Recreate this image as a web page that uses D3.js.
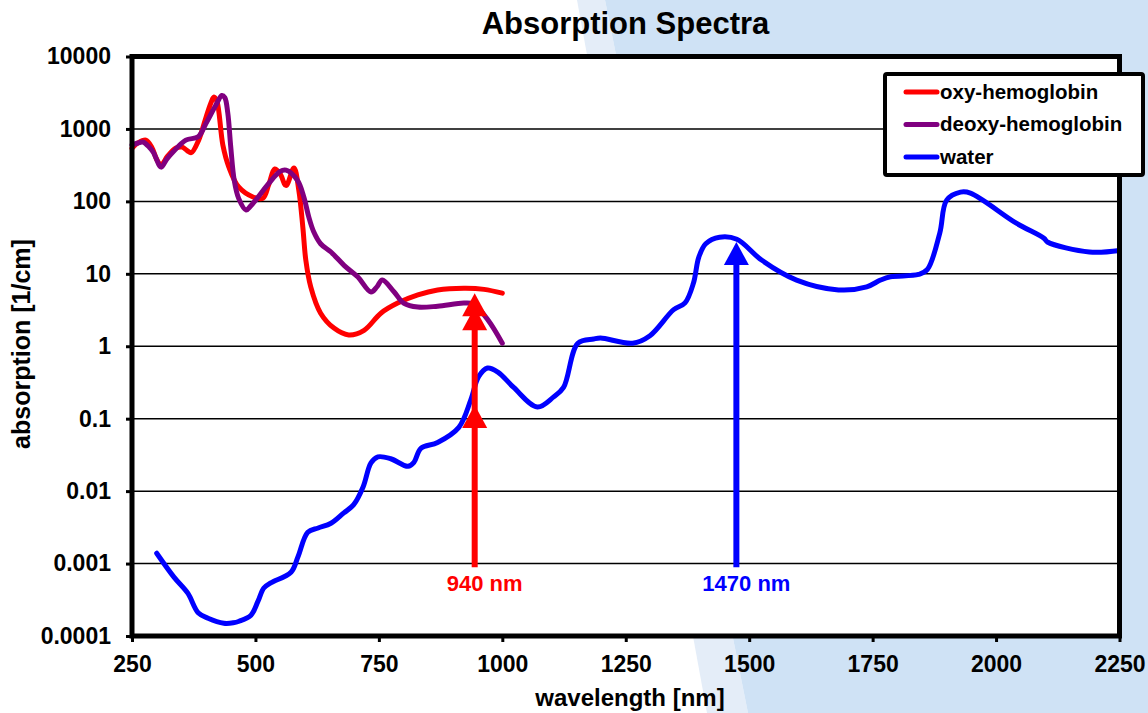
<!DOCTYPE html>
<head>
   <meta charset="utf-8">
   <title>Absorption Spectra</title>
   <script src="https://d3js.org/d3.v7.min.js"></script>
   <style>
      body { margin: 0; background: #ffffff; }
      text {
         font-family: "Liberation Sans", Arial, sans-serif;
         font-weight: 700;
         fill: #000000;
      }
      text.title { font-size: 31px; }
      text.axisTitle { font-size: 24px; }
      text.yTitle { font-size: 25px; }
      .tick text { font-size: 23px; font-weight: 700; }
      .tick line { stroke: #000000; stroke-width: 3; }
      path.domain { display: none; }
      text.legendText { font-size: 20.5px; }
      text.arrowLabel { font-size: 22px; }
   </style>
</head>

<body>
   <script>
      // ---- data (wavelength nm, absorption 1/cm) ----
      const oxyHb = [
         [250, 540], [262, 640], [278, 700], [290, 560], [300, 380], [309, 318], [322, 420],
         [339, 545], [352, 560], [362, 500], [370, 470], [385, 700], [400, 1450], [410, 2300],
         [416, 2760], [422, 2400], [434, 600], [446, 300], [466, 158], [495, 115], [515, 110],
         [527, 170], [539, 280], [550, 240], [562, 165], [578, 290], [588, 140], [596, 44],
         [602, 15.5], [612, 6.6], [632, 2.86], [659, 1.78], [689, 1.43], [720, 1.66], [754, 2.86],
         [788, 3.94], [829, 5.1], [869, 5.96], [922, 6.3], [963, 6.1], [1000, 5.4]
      ];

      const deoxyHb = [
         [250, 600], [262, 640], [272, 660], [285, 560], [293, 480], [309, 297], [320, 380],
         [333, 480], [359, 700], [384, 780], [400, 1200], [420, 2140], [432, 2900], [438, 2700],
         [444, 1660], [450, 565], [457, 196], [466, 110], [481, 76], [490, 86], [501, 105],
         [527, 177], [550, 260], [562, 270], [585, 196], [598, 115], [608, 61], [618, 38],
         [632, 26], [653, 20], [680, 13], [707, 9.1], [734, 5.6], [746, 6.6], [757, 8.2],
         [781, 5.6], [801, 3.9], [829, 3.47], [869, 3.57], [922, 3.94], [942, 3.8], [971, 2.3],
         [1000, 1.1]
      ];

      const water = [
         [300, 0.00139], [335, 0.00065], [363, 0.00039], [384, 0.00021], [404, 0.000176],
         [436, 0.00015], [455, 0.000152], [467, 0.00016], [491, 0.000194], [505, 0.0003],
         [517, 0.00046], [531, 0.00054], [572, 0.00076], [586, 0.00123], [606, 0.0027],
         [627, 0.0031], [653, 0.0036], [679, 0.005], [699, 0.0065], [718, 0.0114], [734, 0.0245],
         [748, 0.0297], [774, 0.028], [809, 0.022], [821, 0.025], [835, 0.039], [869, 0.047],
         [912, 0.076], [936, 0.18], [952, 0.38], [970, 0.5], [991, 0.44], [1023, 0.27],
         [1071, 0.145], [1104, 0.2], [1124, 0.27], [1153, 1.1], [1185, 1.26], [1199, 1.3],
         [1264, 1.1], [1299, 1.4], [1347, 3.2], [1370, 3.96], [1387, 7.4], [1398, 17],
         [1412, 26], [1440, 32], [1475, 30], [1525, 15.5], [1596, 8.2], [1681, 6], [1738, 6.6],
         [1766, 8.2], [1786, 9.1], [1843, 9.8], [1861, 11.5], [1886, 36.5], [1900, 104],
         [1928, 134], [1948, 130], [2041, 50], [2097, 31], [2104, 27.5], [2189, 20], [2250, 21]
      ];

      const seriesNames = ['oxy-hemoglobin', 'deoxy-hemoglobin', 'water'];
      const seriesColors = ['#ff0000', '#800080', '#0000ff'];

      const xTicks = [250, 500, 750, 1000, 1250, 1500, 1750, 2000, 2250];
      const yTicks = [0.0001, 0.001, 0.01, 0.1, 1, 10, 100, 1000, 10000];
      const yTickLabels = ['0.0001', '0.001', '0.01', '0.1', '1', '10', '100', '1000', '10000'];

      // arrows: wavelength, start value, head tip values
      const arrowWl = [940, 1470];
      const arrowFrom = [0.00089, 0.00089];
      const arrowTips = [[5.4, 0.154], [27.4]];
      const arrowLabels = ['940 nm', '1470 nm'];
      const arrowColors = ['#ff0000', '#0000ff'];

      // ---- layout ----
      const width = 1148;
      const height = 713;
      const plot = { left: 132, right: 1119.5, top: 56.5, bottom: 636 };

      const svg = d3.select('body').append('svg')
         .attr('width', width)
         .attr('height', height);

      // slanted light-blue backdrop on the right
      svg.append('polygon')
         .attr('points', '577,0 605,0 748,713 707,713')
         .style('fill', '#e4edf8');
      svg.append('polygon')
         .attr('points', `605,0 ${width},0 ${width},${height} 748,713`)
         .style('fill', '#cfe2f5');

      const x = d3.scaleLinear()
         .domain([250, 2250])
         .range([plot.left, plot.right]);

      const y = d3.scaleLog()
         .domain([1e-4, 1e4])
         .range([plot.bottom, plot.top]);

      // plot area
      svg.append('rect')
         .attr('x', plot.left)
         .attr('y', plot.top)
         .attr('width', plot.right - plot.left)
         .attr('height', plot.bottom - plot.top)
         .style('fill', '#ffffff');

      // horizontal gridlines
      svg.append('g')
         .selectAll('line')
         .data(yTicks.slice(1, -1))
         .enter()
         .append('line')
         .attr('x1', plot.left)
         .attr('x2', plot.right)
         .attr('y1', d => y(d))
         .attr('y2', d => y(d))
         .style('stroke', '#000000')
         .style('stroke-width', 1.5);

      // curves
      const line = d3.line()
         .x(d => x(d[0]))
         .y(d => y(d[1]))
         .curve(d3.curveCatmullRom.alpha(0.5));

      [oxyHb, deoxyHb, water].forEach((s, i) => {
         svg.append('path')
            .datum(s)
            .attr('d', line)
            .style('fill', 'none')
            .style('stroke', seriesColors[i])
            .style('stroke-width', 5)
            .style('stroke-linejoin', 'round')
            .style('stroke-linecap', 'round');
      });

      // arrows
      const headW = 12.5;
      const headL = 23;
      arrowWl.forEach((wl, i) => {
         const ax = x(wl) + 2;
         const g = svg.append('g').style('fill', arrowColors[i]);
         const topY = y(d3.max(arrowTips[i]));
         g.append('line')
            .attr('x1', ax).attr('x2', ax)
            .attr('y1', y(arrowFrom[i]))
            .attr('y2', topY + headL)
            .style('stroke', arrowColors[i])
            .style('stroke-width', 6);
         arrowTips[i].forEach((v, j) => {
            const ty = y(v);
            g.append('path')
               .attr('d', `M${ax},${ty}L${ax - headW},${ty + headL}L${ax + headW},${ty + headL}Z`);
            if (i === 0 && j === 0) {
               // the top red head is drawn doubled in the original
               g.append('path')
                  .attr('d', `M${ax},${ty + 14}L${ax - headW},${ty + 14 + headL}L${ax + headW},${ty + 14 + headL}Z`);
            }
         });
         svg.append('text')
            .attr('class', 'arrowLabel')
            .attr('x', ax + 10)
            .attr('y', 591)
            .style('text-anchor', 'middle')
            .style('fill', arrowColors[i])
            .text(arrowLabels[i]);
      });

      // axes (ticks + labels)
      const yAxis = d3.axisLeft(y)
         .tickValues(yTicks)
         .tickSize(6)
         .tickPadding(15)
         .tickFormat((d, i) => yTickLabels[i]);

      svg.append('g')
         .attr('transform', `translate(${plot.left}, 0)`)
         .call(yAxis);

      const xAxis = d3.axisBottom(x)
         .tickValues(xTicks)
         .tickSize(6)
         .tickPadding(14)
         .tickFormat(d => String(d));

      svg.append('g')
         .attr('transform', `translate(0, ${plot.bottom})`)
         .call(xAxis);

      svg.selectAll('.tick text').style('fill', '#000000');

      // plot border
      svg.append('rect')
         .attr('x', plot.left)
         .attr('y', plot.top)
         .attr('width', plot.right - plot.left)
         .attr('height', plot.bottom - plot.top)
         .style('fill', 'none')
         .style('stroke', '#000000')
         .style('stroke-width', 5);

      // titles
      svg.append('text')
         .attr('class', 'title')
         .attr('x', 625.5)
         .attr('y', 34)
         .style('text-anchor', 'middle')
         .text('Absorption Spectra');

      svg.append('text')
         .attr('class', 'axisTitle')
         .attr('x', 630)
         .attr('y', 706)
         .style('text-anchor', 'middle')
         .text('wavelength [nm]');

      svg.append('text')
         .attr('class', 'yTitle')
         .attr('transform', 'translate(30, 344) rotate(-90)')
         .style('text-anchor', 'middle')
         .text('absorption [1/cm]');

      // legend
      const legend = svg.append('g');
      legend.append('rect')
         .attr('x', 885)
         .attr('y', 74)
         .attr('width', 258)
         .attr('height', 101)
         .attr('rx', 2)
         .style('fill', '#ffffff')
         .style('stroke', '#000000')
         .style('stroke-width', 4);

      const legendRows = [92, 124.5, 157];
      seriesNames.forEach((name, i) => {
         legend.append('line')
            .attr('x1', 906).attr('x2', 937)
            .attr('y1', legendRows[i]).attr('y2', legendRows[i])
            .style('stroke', seriesColors[i])
            .style('stroke-width', 5)
            .style('stroke-linecap', 'round');
         legend.append('text')
            .attr('class', 'legendText')
            .attr('x', 940)
            .attr('y', legendRows[i] + 6.5)
            .text(name);
      });
   </script>
</body>
